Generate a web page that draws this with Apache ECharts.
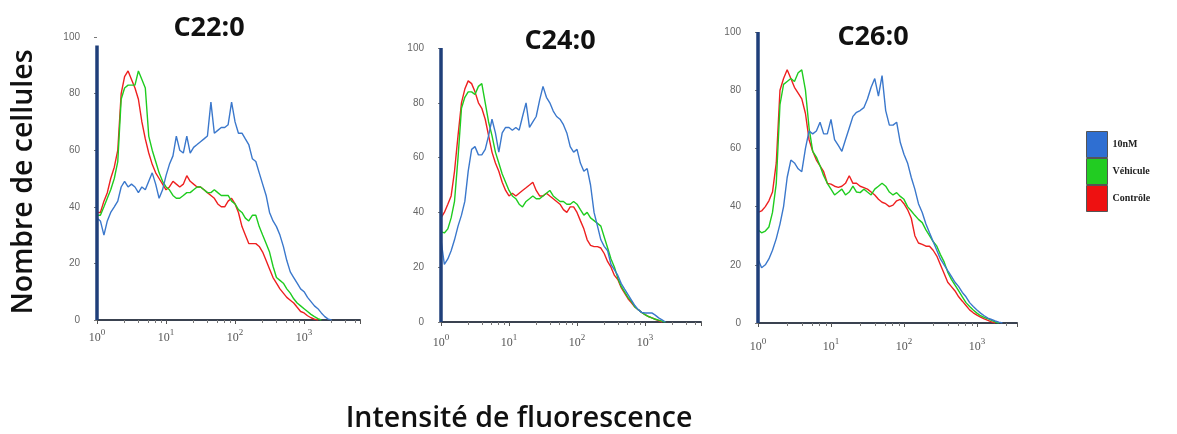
<!DOCTYPE html>
<html>
<head>
<meta charset="utf-8">
<script src="https://cdn.jsdelivr.net/npm/echarts@6/dist/echarts.min.js"></script>
<style>html,body{margin:0;padding:0;background:#fff}#c{width:1177px;height:434px}</style>
</head>
<body>
<div id="c"></div>
<script>
// Fluorescence channels (intensity, log spaced)
const channels = [1.00,1.12,1.26,1.41,1.58,1.78,2.00,2.24,2.51,2.82,3.16,3.55,3.98,4.47,5.01,5.62,6.31,7.08,7.94,8.91,
  10.0,11.2,12.6,14.1,15.8,17.8,20.0,22.4,25.1,28.2,31.6,35.5,39.8,44.7,50.1,56.2,63.1,70.8,79.4,89.1,
  100,112,126,141,158,178,200,224,251,282,316,355,398,447,501,562,631,708,794,891,
  1000,1122,1259,1413,1585,1778,1995,2239,2512];

const panelTitles = ['C22:0','C24:0','C26:0'];
const seriesNames = ['10nM','Véhicule','Contrôle'];
const yTicks = [0,20,40,60,80,100];
const xMax = [6460, 6650, 3540];
const spikeTop = [97, 100, 100];

// C22:0
const c22_10nM = [36,35,30,35,38,40,42,47,49,47,48,47,45,47,46,49,52,48,43,46,
  51,55,58,65,60,59,65,59,61,62,63,64,65,77,66,67,68,68,69,77,
  70,66,66,64,62,57,56,52,48,44,38,35,33,30,26,21,17,15,13,11,
  10,8,6.5,5,4,2.5,1.2,0.3,0];
const c22_vehicule = [37,37,40,43,46,50,56,78,82,83,83,83,88,85,82,65,60,56,52,49,
  47,46,44,43,43,44,45,45,46,47,47,46,45,45,46,45,44,44,44,42,
  41,39,38,36,35,37,37,33,30,27,24,19,15,14,13,11,9.5,7.5,6,5,
  4,3,2,1.2,0.5,0];
const c22_controle = [38,38,42,45,50,54,60,80,86,88,85,82,78,70,64,59,55,52,50,48,
  46,47,49,48,47,48,51,49,48,47,47,46,45,44,43,41,40,40,42,43,
  41,38,33,30,27,27,27,26,24,21,18,15,13,11,9.5,8,7,6,4.5,3,
  2.5,1.5,0.8,0.3,0];

// C24:0
const c24_10nM = [30,21,23,26,30,35,39,44,55,63,64,61,61,63,68,74,69,62,69,71,
  71,70,71,70,75,80,71,73,75,81,86,82,80,77,75,74,72,69,64,62,
  63,58,55,56,50,40,35,30,27.6,26,21,19,17,14,12,10,8,6,4.5,3.5,
  3.3,3.3,3.3,2.5,1.5,0.8,0];
const c24_vehicule = [33,32.5,34,38,44,60,78,82,84,84,83,86,87,80,73,68,62,58,54,51,
  48,46,45,43,42,44,45,46,45,45,46,47,48,46,45,44,44,43,43,44,
  43,41,39,40,38,37,36,35,31,27,23,20,16,13,11,9,7.5,5.5,4.5,3.5,
  2.7,2,1.5,1,0.7,0.3,0];
const c24_controle = [38,40,43,46,55,68,80,85,88,87,84,80,78,74,68,62,58,55,51,48,
  46,47,46,47,48,49,50,51,48,46,46,47,46,45,44,43,41,40,42,42,
  40,37,34,30,28,27.5,27.5,27,25,22,20,17,15.5,12.5,10.5,8.5,7,5.5,4.5,3.5,
  2.7,2,1.5,1,0.5,0];

// C26:0
const c26_10nM = [22,19,20,22,25,29,34,40,50,56,55,53,52,60,66,65,66,69,65,65,
  70,63,61,59,63,67,71,72.4,73,74,77,81,84,78,85,73,68,68,69,62,
  58,55,50,46,41,38,34,31,28,25,22,20,18,16,14,12.5,10.5,9,7,5.7,
  4.5,3.4,2.5,1.7,1.2,0.7,0.3,0];
const c26_vehicule = [32,31,31.6,33,38,48,75,82,83,84,83,86,87,80,67,59,57,54,50.6,48,
  46,44,45,46,44,45,47,45,44.8,46,45,44,46,47,48,47,45,44,44.8,43.5,
  42.5,40,38.5,37,35.6,34.5,32,30,28,26.4,23.5,21,17.5,15,13,11,9,7,5.7,4.5,
  3.4,2.5,1.9,1.5,0.9,0.4,0];
const c26_controle = [38,38.5,40,42,45,55,80,84,87,84,81,79,77,72,63,59,56,54,52,48,
  47.7,47,46.6,47,48,50.6,48,48,47,46.5,46,45,44,42.5,41.5,41,40,40.5,42,42.5,
  41,39,36,30,27.5,27,26.4,26.4,25,23,20,17,14,12.5,11,9,7.5,6,4.5,3.5,
  2.7,2,1.4,0.9,0.4,0];

const panelValues = [
  [c22_10nM, c22_vehicule, c22_controle],
  [c24_10nM, c24_vehicule, c24_controle],
  [c26_10nM, c26_vehicule, c26_controle]
];

const colors = ['#3b78cc', '#1fcc1f', '#ee2020'];
const legendColors = ['#2f6fd2', '#22cc22', '#ee1111'];

const grids = [
  {left: 97, top: 37, width: 263, height: 283},
  {left: 441, top: 48, width: 260, height: 274},
  {left: 758, top: 32, width: 259, height: 291}
];
const xLabelMargin = [8, 11, 14];
const titlePos = [[209, 28], [560, 41], [873, 37]];

const xAxes = [], yAxes = [], series = [];
grids.forEach((g, p) => {
  xAxes.push({
    gridIndex: p, type: 'log', logBase: 10, min: 1, max: xMax[p],
    axisLine: {show: true, lineStyle: {color: '#3a4250', width: 2}},
    axisTick: {show: true, length: 4, lineStyle: {color: '#555'}},
    minorTick: {show: true, splitNumber: 6, length: 3, lineStyle: {color: '#777'}},
    splitLine: {show: false},
    axisLabel: {
      showMaxLabel: false,
      margin: xLabelMargin[p],
      color: '#555', fontFamily: 'Liberation Serif', fontSize: 12,
      formatter: v => '{b|10}{s|' + Math.round(Math.log10(v)) + '}',
      rich: {
        b: {fontSize: 12, color: '#555', fontFamily: 'Liberation Serif', verticalAlign: 'bottom', lineHeight: 16},
        s: {fontSize: 9, color: '#555', fontFamily: 'Liberation Serif', verticalAlign: 'top', lineHeight: 16, padding: [0, 0, 7, 0]}
      }
    }
  });
  yAxes.push({
    gridIndex: p, type: 'value', min: 0, max: 100, interval: 20,
    axisLine: {show: false},
    axisTick: {show: true, length: 3, lineStyle: {color: '#777'}},
    splitLine: {show: false},
    axisLabel: {margin: 17, color: '#666', fontFamily: 'Liberation Sans', fontSize: 10}
  });
  seriesNames.forEach((name, k) => {
    const vals = panelValues[p][k];
    series.push({
      name: name, type: 'line', xAxisIndex: p, yAxisIndex: p,
      showSymbol: false, symbol: 'none', z: 3 + (2 - k),
      itemStyle: {color: legendColors[k]},
      lineStyle: {color: colors[k], width: 1.4},
      data: vals.map((v, i) => [channels[i], v])
    });
  });
  series.push({
    name: 'spike', type: 'line', xAxisIndex: p, yAxisIndex: p, clip: false,
    showSymbol: false, symbol: 'none', z: 6, silent: true,
    lineStyle: {color: '#1f3f7a', width: 3.5},
    data: [[1, 0], [1, spikeTop[p]]]
  });
});

const graphics = panelTitles.map((t, p) => ({
  type: 'text', x: titlePos[p][0], y: titlePos[p][1],
  style: {text: t, fontFamily: 'Open Sans', fontWeight: 'bold', fontSize: 27, fill: '#111', align: 'center', verticalAlign: 'middle'}
}));
graphics.push({
  type: 'text', x: 24, y: 182, rotation: Math.PI / 2,
  style: {text: 'Nombre de cellules', fontFamily: 'Open Sans', fontWeight: 600, fontSize: 28.5, fill: '#111', align: 'center', verticalAlign: 'middle'}
});
graphics.push({
  type: 'text', x: 519, y: 419,
  style: {text: 'Intensité de fluorescence', fontFamily: 'Open Sans', fontWeight: 600, fontSize: 28.5, fill: '#111', align: 'center', verticalAlign: 'middle'}
});

const chart = echarts.init(document.getElementById('c'), null, {renderer: 'canvas'});
chart.setOption({
  animation: false,
  backgroundColor: '#fff',
  grid: grids,
  xAxis: xAxes,
  yAxis: yAxes,
  legend: {
    data: seriesNames, orient: 'vertical', left: 1086, top: 131, padding: 0,
    icon: 'rect', itemWidth: 21, itemHeight: 26, itemGap: 0,
    itemStyle: {borderColor: '#555', borderWidth: 1},
    textStyle: {fontFamily: 'Liberation Serif', fontWeight: 'bold', fontSize: 10, color: '#222'}
  },
  series: series,
  graphic: graphics
});
</script>
</body>
</html>
